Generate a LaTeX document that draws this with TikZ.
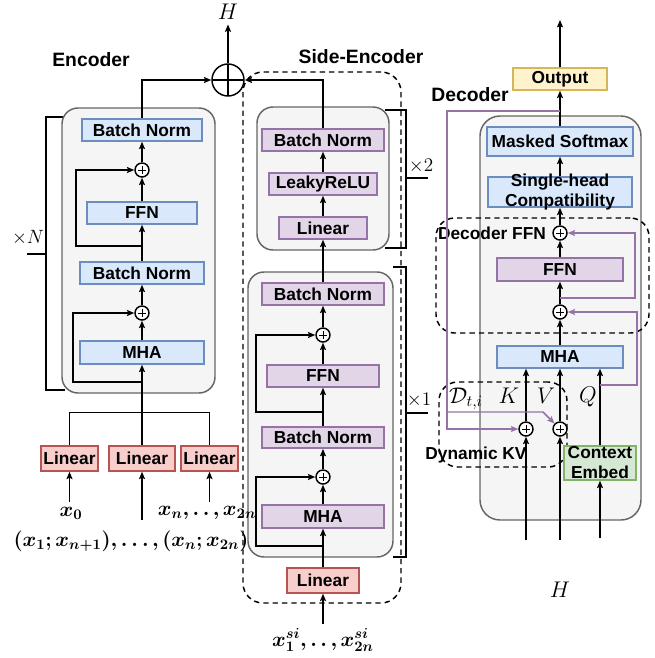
\RequirePackage{fix-cm}
\documentclass[tikz,border=0pt]{standalone}
\usepackage{amsmath}
\usepackage{bm}
\usepackage{fontspec}
\newfontfamily\labfont{Liberation Sans}
\usetikzlibrary{arrows.meta}

\definecolor{bluefill}{HTML}{DAE8FC}
\definecolor{blueline}{HTML}{6C8EBF}
\definecolor{purfill}{HTML}{E1D5E7}
\definecolor{purline}{HTML}{9673A6}
\definecolor{redfill}{HTML}{F8CECC}
\definecolor{redline}{HTML}{B85450}
\definecolor{yelfill}{HTML}{FFF2CC}
\definecolor{yelline}{HTML}{D6B656}
\definecolor{grnfill}{HTML}{D5E8D4}
\definecolor{grnline}{HTML}{82B366}
\definecolor{grpfill}{HTML}{F5F5F5}
\definecolor{grpline}{HTML}{666666}

\tikzset{
  boxtxt/.style={font=\labfont\bfseries\fontsize{13}{15}\selectfont},
  headtxt/.style={font=\labfont\bfseries\fontsize{14.5}{16}\selectfont},
  mathlab/.style={font=\fontsize{14.4}{16}\selectfont},
  veclab/.style={font=\fontsize{15.6}{18}\selectfont},
  biglab/.style={font=\fontsize{17}{19}\selectfont},
  lyrbox/.style={boxtxt, draw, line width=1.1pt, inner sep=0pt, align=center},
  tworow/.style={inner ysep=-3pt},
  bluebox/.style={lyrbox, draw=blueline, fill=bluefill},
  purbox/.style={lyrbox, draw=purline, fill=purfill},
  redbox/.style={lyrbox, draw=redline, fill=redfill},
  yelbox/.style={lyrbox, draw=yelline, fill=yelfill},
  grnbox/.style={lyrbox, draw=grnline, fill=grnfill},
  grpbox/.style={draw=grpline, fill=grpfill, line width=1.1pt, rounded corners=12pt, inner sep=0pt},
  dashbox/.style={draw, dash pattern=on 4pt off 3pt, line width=1.1pt, rounded corners=14pt, inner sep=0pt},
  addop/.style={circle, draw, fill=white, line width=1.1pt, minimum size=10.5pt, inner sep=0pt,
    path picture={\draw[line width=0.6pt]
      ([yshift=-2.2pt]path picture bounding box.north) -- ([yshift=2.2pt]path picture bounding box.south)
      ([xshift=2.2pt]path picture bounding box.west) -- ([xshift=-2.2pt]path picture bounding box.east);}},
  bigadd/.style={circle, draw, line width=1.1pt, minimum size=24pt, inner sep=0pt,
    path picture={\draw[line width=1.1pt]
      (path picture bounding box.north) -- (path picture bounding box.south)
      (path picture bounding box.west) -- (path picture bounding box.east);}},
  wire/.style={line width=1.1pt},
  arr/.style={wire, -{Stealth[length=5.5pt,width=4.5pt,inset=1pt]}},
  parr/.style={arr, draw=purline, color=purline},
  bkt/.style={line width=1.1pt},
}

\begin{document}
\begin{tikzpicture}[x=0.75pt,y=0.75pt,yscale=-1,xscale=1]
\useasboundingbox (0,0) rectangle (655,658);

%Brackets
\draw[bkt] (65,117) -- (46,117) -- (46,390) -- (65,390);
\draw[bkt] (27,254) -- (46,254);
\draw[bkt] (385,110) -- (406,110) -- (406,248) -- (385,248);
\draw[bkt] (406,178) -- (428,178);
\draw[bkt] (393,267) -- (406,267) -- (406,557) -- (393,557);
\draw[bkt] (406,413) -- (428,413);

%Shape: Encoder
\node[grpbox, minimum width=114.75pt, minimum height=213.75pt] (encgrp) at (138.5,250.5) {};
\node[bluebox, minimum width=90pt, minimum height=16.5pt] (encbnA) at (142,130) {Batch Norm};
\node[addop] (encaddA) at (142,170) {};
\node[bluebox, minimum width=82.5pt, minimum height=16.5pt] (encffn) at (142,213) {FFN};
\node[bluebox, minimum width=93pt, minimum height=16.5pt] (encbnB) at (142,273) {Batch Norm};
\node[addop] (encaddB) at (142,313) {};
\node[bluebox, minimum width=93pt, minimum height=17.25pt] (encmha) at (142,352.5) {MHA};
\node[redbox, minimum width=42.75pt, minimum height=18.75pt] (enclinA) at (69.5,458.5) {Linear};
\node[redbox, minimum width=49.5pt, minimum height=18.75pt] (enclinB) at (142,458.5) {Linear};
\node[redbox, minimum width=42.75pt, minimum height=18.75pt] (enclinC) at (209.5,458.5) {Linear};

%Shape: Side-Encoder
\node[dashbox, rounded corners=15pt, minimum width=118.5pt, minimum height=398.25pt] (sidegrp) at (322,337.5) {};
\node[grpbox, minimum width=99pt, minimum height=107.25pt] (sideupgrp) at (323,178.5) {};
\node[grpbox, minimum width=108.75pt, minimum height=213.75pt] (sidelogrp) at (320.5,414.5) {};
\node[purbox, minimum width=91.5pt, minimum height=16.5pt] (sidebnC) at (323,140) {Batch Norm};
\node[purbox, minimum width=81pt, minimum height=16.5pt] (sidelrelu) at (323,184) {LeakyReLU};
\node[purbox, minimum width=66pt, minimum height=16.5pt] (sidelinB) at (323,228) {Linear};
\node[purbox, minimum width=91.5pt, minimum height=16.5pt] (sidebnA) at (323,294) {Batch Norm};
\node[addop] (sideaddA) at (323,335) {};
\node[purbox, minimum width=84pt, minimum height=16.5pt] (sideffn) at (323,376) {FFN};
\node[purbox, minimum width=91.5pt, minimum height=16pt] (sidebnB) at (323,437.5) {Batch Norm};
\node[addop] (sideaddB) at (323,477) {};
\node[purbox, minimum width=91.5pt, minimum height=17.25pt] (sidemha) at (323,516.5) {MHA};
\node[redbox, minimum width=54pt, minimum height=18.75pt] (sidelin) at (323,580.5) {Linear};

%Shape: Decoder
\node[grpbox, rounded corners=15pt, minimum width=120.75pt, minimum height=303pt] (decgrp) at (560.5,318) {};
\node[yelbox, minimum width=70.5pt, minimum height=16.5pt] (decout) at (560,79) {Output};
\node[bluebox, minimum width=109.5pt, minimum height=21.75pt] (decsoft) at (560,141.5) {Masked Softmax};
\node[bluebox, tworow, minimum width=108pt, minimum height=22.5pt] (deccomp) at (560,192) {Single-head\\Compatibility};
\node[dashbox, minimum width=159.75pt, minimum height=86.25pt] (decffngrp) at (542.5,275.5) {};
\node[addop] (decaddA) at (560,233) {};
\node[purbox, minimum width=94.5pt, minimum height=17.25pt] (decffn) at (560,269.5) {FFN};
\node[addop] (decaddB) at (560,312) {};
\node[bluebox, minimum width=94.5pt, minimum height=16.5pt] (decmha) at (560,357) {MHA};
\node[dashbox, minimum width=96pt, minimum height=63.75pt] (kvgrp) at (503,424.5) {};
\node[addop] (kadd) at (526,429) {};
\node[addop] (vadd) at (560,429) {};
\node[grnbox, tworow, minimum width=54pt, minimum height=25.5pt] (ctxemb) at (600,463) {Context\\Embed};

%Shape: sum of both encoders
\node[bigadd] (bigadd) at (228,80) {};

% Text Node
\node[headtxt] (enctitle) at (91,60) {Encoder};
% Text Node
\node[headtxt] (sidetitle) at (361,57) {Side-Encoder};
% Text Node
\node[headtxt] (dectitle) at (470,95) {Decoder};
% Text Node
\node[boxtxt] (ffntitle) at (492,233) {Decoder FFN};
% Text Node
\node[boxtxt] (kvtitle) at (476,455) {Dynamic KV};
% Text Node
\node[biglab] (htop) at (228,12) {$H$};
% Text Node
\node[biglab] (hbot) at (560,590) {$H$};
% Text Node
\node[mathlab] (timesN) at (28,238) {$\times N$};
% Text Node
\node[mathlab] (timesB) at (421,166) {$\times 2$};
% Text Node
\node[mathlab] (timesA) at (419,400) {$\times 1$};
% Text Node
\node[veclab] (xzero) at (71,513) {$\bm{x_0}$};
% Text Node
\node[veclab] (xnlab) at (207,513) {$\bm{x_n,\ldotp\ldotp,x_{2n}}$};
% Text Node
\node[veclab] (xpairs) at (131,541) {$\bm{(x_1;x_{n+1}),\ldots,(x_n;x_{2n})}$};
% Text Node
\node[veclab] (xsi) at (323,640) {$\bm{x^{si}_1,\ldotp\ldotp,x^{si}_{2n}}$};
% Text Node
\node[biglab] (dlab) at (466,399) {$\mathcal{D}_{t,i}$};
% Text Node
\node[biglab] (klab) at (509,396) {$K$};
% Text Node
\node[biglab] (vlab) at (546,396) {$V$};
% Text Node
\node[biglab] (qlab) at (588,397) {$Q$};

%Straight Lines: encoder
\coordinate (encin) at (142,520);
\draw[arr] (xzero.north -| enclinA) -- (enclinA);
\draw[arr] (encin) -- (enclinB);
\draw[arr] (xnlab.north -| enclinC) -- (enclinC);
\draw[wire] (enclinA.north) -- ++(0,-33) -| (enclinC.north);
\draw[arr] (enclinB) -- (encmha);
\coordinate (encskipB) at (142,382);
\draw[arr] (encskipB) -- ++(-69,0) |- (encaddB);
\draw[arr] (encmha) -- (encaddB);
\draw[arr] (encaddB) -- (encbnB);
\draw[arr] (encbnB) -- (encffn);
\coordinate (encskipA) at (142,246);
\draw[arr] (encskipA) -- ++(-66,0) |- (encaddA);
\draw[arr] (encffn) -- (encaddA);
\draw[arr] (encaddA) -- (encbnA);
\draw[arr] (encbnA.north) |- (bigadd);
\draw[arr] (bigadd) -- (htop);

%Straight Lines: side-encoder
\draw[arr] (xsi) -- (sidelin);
\draw[arr] (sidelin) -- (sidemha);
\coordinate (sideskipB) at (323,546);
\draw[arr] (sideskipB) -- ++(-67,0) |- (sideaddB);
\draw[arr] (sidemha) -- (sideaddB);
\draw[arr] (sideaddB) -- (sidebnB);
\draw[arr] (sidebnB) -- (sideffn);
\coordinate (sideskipA) at (323,412);
\draw[arr] (sideskipA) -- ++(-67,0) |- (sideaddA);
\draw[arr] (sideffn) -- (sideaddA);
\draw[arr] (sideaddA) -- (sidebnA);
\draw[arr] (sidebnA) -- (sidelinB);
\draw[arr] (sidelinB) -- (sidelrelu);
\draw[arr] (sidelrelu) -- (sidebnC);
\draw[arr] (sidebnC.north) |- (bigadd);

%Straight Lines: decoder
\coordinate (kin) at (526,540);
\coordinate (vin) at (560,540);
\coordinate (qin) at (600,538);
\coordinate (decend) at (560,20);
\draw[arr] (kin) -- (kadd);
\draw[arr] (kadd) -- (kadd |- decmha.south);
\draw[arr] (vin) -- (vadd);
\draw[arr] (vadd) -- (decmha);
\draw[arr] (qin) -- (ctxemb);
\draw[arr] (ctxemb) -- (ctxemb |- decmha.south);
\draw[arr] (decmha) -- (decaddB);
\draw[arr] (decaddB) -- (decffn);
\draw[arr] (decffn) -- (decaddA);
\draw[arr] (decaddA) -- (deccomp);
\draw[arr] (deccomp) -- (decsoft);
\draw[arr] (decsoft) -- (decout);
\draw[arr] (decout) -- (decend);

%Straight Lines: purple residuals and dynamic KV feed
\coordinate (ffnsplit) at (560,298);
\coordinate (qsplit) at (600,385);
\coordinate (dtap) at (560,111);
\coordinate (dbranch) at (447,412);
\draw[parr] (ffnsplit) -- ++(75,0) |- (decaddA);
\draw[parr] (qsplit) -- ++(37,0) |- (decaddB);
\draw[parr] (dtap) -- ++(-113,0) |- (kadd);
\draw[parr] (dbranch) -- ++(96,0) -- (vadd);

\end{tikzpicture}
\end{document}
